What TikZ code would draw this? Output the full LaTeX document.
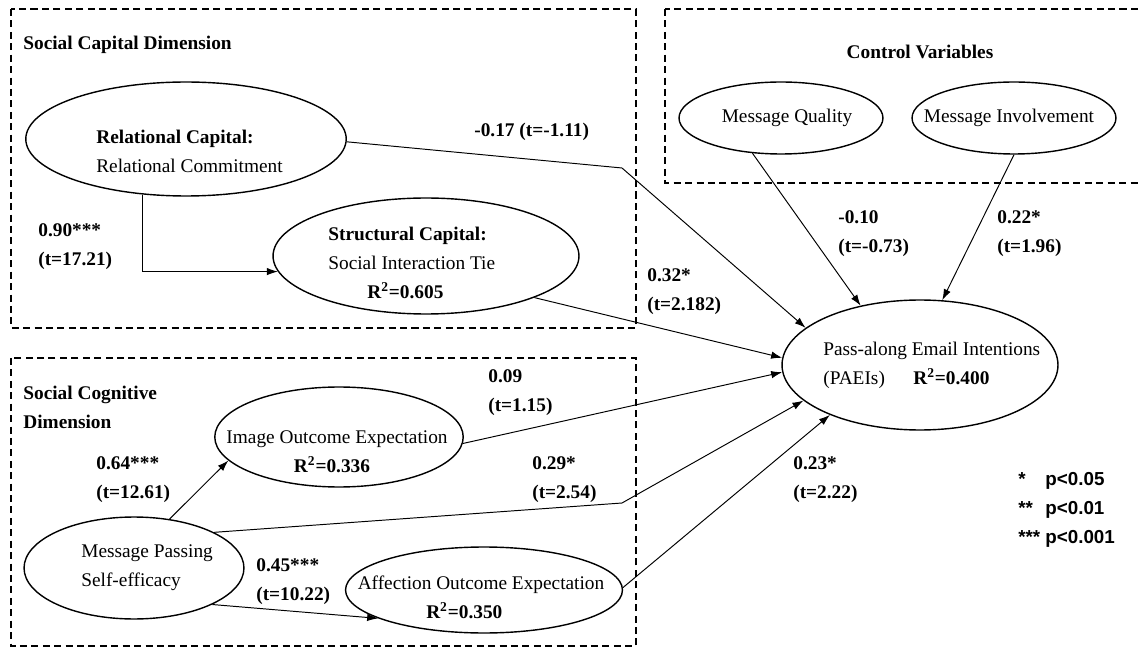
\documentclass[tikz,border=0pt]{standalone}
\usepackage{fontspec}
\setmainfont{Liberation Serif}
\newfontfamily\legendfont{Liberation Sans}
\usepackage{tikz}
\usetikzlibrary{shapes.geometric,arrows.meta}
\tikzset{var/.style={ellipse,draw,line width=0.8pt,inner sep=0pt},
         txt/.style={inner sep=0pt,align=left,font=\fontsize{11}{16.4}\selectfont},
         dimbox/.style={draw,dash pattern=on 4pt off 2.5pt,line width=0.6pt},
         path/.style={->,line width=0.55pt}}

\begin{document}
\begin{tikzpicture}[x=0.02cm,y=-0.02cm,>={Latex[length=2.2mm,width=1.5mm]}]
    \useasboundingbox (0,0) rectangle (1139,648);
    % dimension boxes
    \draw[dimbox] (11,9) rectangle (636,328);
    \draw[dimbox] (665,9) rectangle (1150,183);
    \draw[dimbox] (11,358) rectangle (636,646);

    \node[txt,anchor=west] (tscd) at (23,45) {\textbf{Social Capital Dimension}};
    \node[txt] (tcv) at (920,52) {\textbf{Control Variables}};
    \node[txt,anchor=west] (tscg) at (23,407) {\textbf{Social Cognitive}\\\textbf{Dimension}};

    % constructs
    \node[var,minimum width=6.41cm,minimum height=2.28cm] (rel) at (186,139) {};
    \node[var,minimum width=6.12cm,minimum height=2.32cm] (str) at (426,256) {};
    \node[var,minimum width=4.08cm,minimum height=1.44cm] (mq) at (781,118) {};
    \node[var,minimum width=4.08cm,minimum height=1.44cm] (mi) at (1014,118) {};
    \node[var,minimum width=5.52cm,minimum height=2.6cm] (pae) at (920,365) {};
    \node[var,minimum width=4.97cm,minimum height=2.0cm] (img) at (339,437) {};
    \node[var,minimum width=4.4cm,minimum height=2.04cm] (mps) at (134,568) {};
    \node[var,minimum width=5.54cm,minimum height=1.72cm] (aff) at (484,590) {};

    \node[txt,anchor=west] (relT) at (96,151) {\textbf{Relational Capital:}\\Relational Commitment};
    \node[txt,anchor=west] (strT) at (328,263) {\textbf{Structural Capital:}\\Social Interaction Tie\\\hspace*{22.2pt}\textbf{R\textsuperscript{2}=0.605}};
    \node[txt] (mqT) at (787,118) {Message Quality};
    \node[txt] (miT) at (1009,118) {Message Involvement};
    \node[txt,anchor=west] (paeT) at (823,365) {Pass-along Email Intentions\\\makebox[51.2pt][l]{(PAEIs)}\textbf{R\textsuperscript{2}=0.400}};
    \node[txt,align=center] (imgT) at (337,452) {Image Outcome Expectation\\\textbf{R\textsuperscript{2}=0.336}\hspace*{5.7pt}};
    \node[txt,anchor=west] (mpsT) at (81,568) {Message Passing\\Self-efficacy};
    \node[txt,align=center] (affT) at (481,597) {Affection Outcome Expectation\\\textbf{R\textsuperscript{2}=0.350}\hspace*{19pt}};

    % paths
    \coordinate (b1) at (622,168);
    \coordinate (b2) at (622,503);
    \draw[path] (rel.232) |- (str.186);
    \draw[path] (rel.359) -- (b1) -- (pae.162);
    \draw[path] (str.339) -- (pae.177);
    \draw[path] (img.357) -- (pae.183);
    \draw[path] (mps.24) -- (b2) -- (pae.197);
    \draw[path] (aff.1) -- (pae.209);
    \draw[path] (mps.54) -- (img.192);
    \draw[path] (mps.335) -- (aff.195);
    \draw[path] (mq.231) -- (pae.135);
    \draw[path] (mi.270) -- (pae.71);

    % coefficients
    \node[txt,anchor=west] (c17) at (474,132) {\textbf{-0.17 (t=-1.11)}};
    \node[txt,anchor=west] (c90) at (38,247) {\textbf{0.90***}\\\textbf{(t=17.21)}};
    \node[txt,anchor=west] (c32) at (647,292) {\textbf{0.32*}\\\textbf{(t=2.182)}};
    \node[txt,anchor=west] (c10) at (838,234) {\textbf{-0.10}\\\textbf{(t=-0.73)}};
    \node[txt,anchor=west] (c22) at (997,234) {\textbf{0.22*}\\\textbf{(t=1.96)}};
    \node[txt,anchor=west] (c09) at (488,393) {\textbf{0.09}\\\textbf{(t=1.15)}};
    \node[txt,anchor=west] (c64) at (96,480) {\textbf{0.64***}\\\textbf{(t=12.61)}};
    \node[txt,anchor=west] (c29) at (532,480) {\textbf{0.29*}\\\textbf{(t=2.54)}};
    \node[txt,anchor=west] (c45) at (256,582) {\textbf{0.45***}\\\textbf{(t=10.22)}};
    \node[txt,anchor=west] (c23) at (793,480) {\textbf{0.23*}\\\textbf{(t=2.22)}};

    % significance levels
    \node[inner sep=0pt,align=left,anchor=west,font=\legendfont\bfseries\fontsize{10.7}{16.5}\selectfont] (sig) at (1018,510)
        {\makebox[15.4pt][l]{*}p<0.05\\\makebox[15.4pt][l]{**}p<0.01\\\makebox[15.4pt][l]{***}p<0.001};
\end{tikzpicture}
\end{document}
